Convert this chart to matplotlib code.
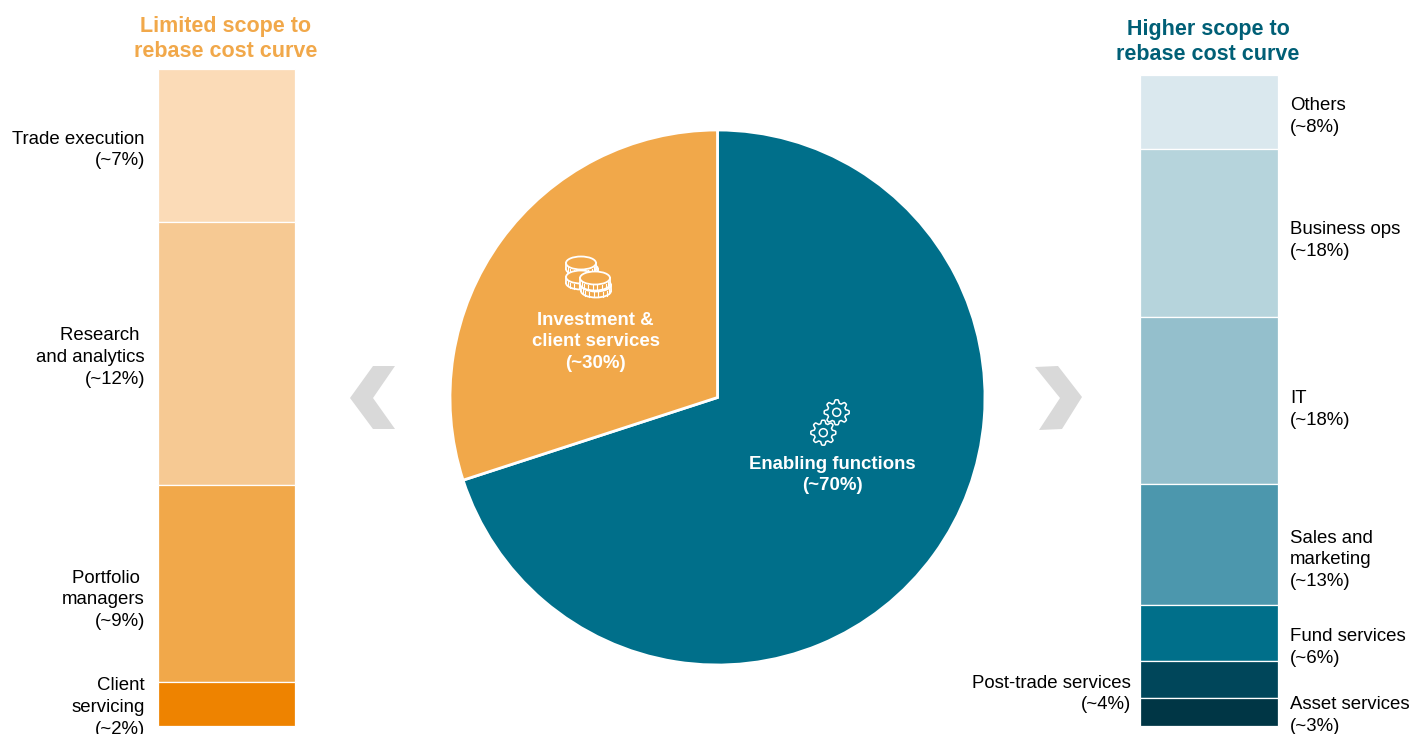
import numpy as np
import matplotlib
matplotlib.use('Agg')
import matplotlib.pyplot as plt
from matplotlib.patches import Ellipse, Polygon, Rectangle, Circle

plt.rcParams['font.family'] = ['Liberation Sans', 'DejaVu Sans']

pie_labels = ['Enabling functions', 'Investment &\nclient services']
pie_values = [70, 30]

left_labels = ['Trade execution', 'Research \nand analytics', 'Portfolio \nmanagers', 'Client\nservicing']
left_values = [7, 12, 9, 2]
left_colors = ['#FBDBB7', '#F6C993', '#F1A84A', '#EE8300']

right_labels = ['Others', 'Business ops', 'IT', 'Sales and\nmarketing', 'Fund services',
                'Post-trade services', 'Asset services']
right_values = [8, 18, 18, 13, 6, 4, 3]
right_colors = ['#DAE8EE', '#B6D4DC', '#94BFCC', '#4C97AD', '#006F8A', '#00465A', '#003645']

ORANGE = '#F1A84A'
TEAL = '#006F8A'
TITLE_TEAL = '#005F76'
FS = 13.4
LS = 1.36


def stacked_bar(ax, x, width, top, bottom, values, colors):
    # stacks from the top down, scaled so the column fills top..bottom
    scale = (bottom - top) / sum(values)
    y = top
    for v, c in zip(values, colors):
        h = v * scale
        ax.bar(x, h, width, bottom=y, align='edge', color=c, edgecolor='white', linewidth=0.9)
        y += h


def coin(ax, cx, cy):
    lw = 1.3
    ax.add_patch(Ellipse((cx, cy + 6), 30, 13, fc=ORANGE, ec='white', lw=lw, zorder=5))
    ax.add_patch(Rectangle((cx - 15, cy), 30, 6, fc=ORANGE, ec='none', zorder=5))
    ax.plot([cx - 15, cx - 15], [cy, cy + 6], color='white', lw=lw, zorder=5)
    ax.plot([cx + 15, cx + 15], [cy, cy + 6], color='white', lw=lw, zorder=5)
    for a in np.linspace(0.15, 0.85, 8):
        t = np.pi * a
        px = cx + 15 * np.cos(t)
        py = cy + 6.5 * np.sin(t)
        ax.plot([px, px], [py + 1, py + 6], color='white', lw=0.8, zorder=5)
    ax.add_patch(Ellipse((cx, cy), 30, 13, fc=ORANGE, ec='white', lw=lw, zorder=5))


def gear(ax, cx, cy, r=12.5, teeth=8):
    ang = np.linspace(0, 2 * np.pi, teeth * 24, endpoint=False)
    rad = r - 1.6 + 1.6 * np.clip(1.6 * np.cos(teeth * ang), -1, 1)
    pts = np.column_stack([cx + rad * np.cos(ang), cy + rad * np.sin(ang)])
    ax.add_patch(Polygon(pts, closed=True, fc='none', ec='white', lw=1.1, zorder=5))
    ax.add_patch(Circle((cx, cy), 4, fc='none', ec='white', lw=1.1, zorder=5))


fig = plt.figure(figsize=(14.11, 7.34), dpi=100)
ax = fig.add_axes([0, 0, 1, 1])

# y is flipped so the layout can be worked out from the top of the page
ax.pie(pie_values, colors=[TEAL, ORANGE], startangle=-90, center=(717.5, 397.5), radius=267.5,
       wedgeprops={'edgecolor': 'white', 'linewidth': 2})
ax.set_xlim(0, 1411)
ax.set_ylim(734, 0)
ax.axis('off')

stacked_bar(ax, 157.5, 137, 68.5, 726, left_values, left_colors)
stacked_bar(ax, 1140, 137.5, 75, 726, right_values, right_colors)

ax.text(226, 39, 'Limited scope to\nrebase cost curve', color=ORANGE, fontsize=15.5, fontweight='bold',
        ha='center', va='center', linespacing=1.29)
ax.text(1208, 42, 'Higher scope to\nrebase cost curve', color=TITLE_TEAL, fontsize=15.5, fontweight='bold',
        ha='center', va='center', linespacing=1.29)

left_y = [150, 357.5, 600, 707.5]
for name, v, y in zip(left_labels, left_values, left_y):
    ax.text(145, y, f'{name}\n(~{v}%)', ha='right', va='center', fontsize=FS, color='black', linespacing=LS)

right_y = [116.5, 240.5, 409.5, 560, 647.5, 694, 715.5]
for name, v, y in zip(right_labels, right_values, right_y):
    if name == 'Post-trade services':
        ax.text(1131, y, f'{name}\n(~{v}%)', ha='right', va='center', fontsize=FS, color='black', linespacing=LS)
    else:
        ax.text(1290, y, f'{name}\n(~{v}%)', ha='left', va='center', fontsize=FS, color='black', linespacing=LS)

ax.text(832, 475, f'{pie_labels[0]}\n(~{pie_values[0]}%)', color='white', fontsize=FS, fontweight='bold',
        ha='center', va='center', linespacing=LS, zorder=6)
ax.text(595.5, 342, f'{pie_labels[1]}\n(~{pie_values[1]}%)', color='white', fontsize=FS, fontweight='bold',
        ha='center', va='center', linespacing=LS, zorder=6)

# grey chevrons either side of the pie
ax.add_patch(Polygon([(350, 398), (373, 366), (395, 366), (373, 398), (395, 429), (373, 429)],
                     closed=True, fc='#D9D9D9', ec='none'))
ax.add_patch(Polygon([(1035, 367), (1058, 366), (1082, 397), (1062, 429), (1039, 430), (1060, 398)],
                     closed=True, fc='#D9D9D9', ec='none'))

# icons
coin(ax, 583, 269)
coin(ax, 581, 263)
coin(ax, 581, 277)
coin(ax, 596, 285)
coin(ax, 595, 278)
gear(ax, 836.7, 412.3)
gear(ax, 823.3, 432.7)

fig.savefig('out.png', dpi=100)
